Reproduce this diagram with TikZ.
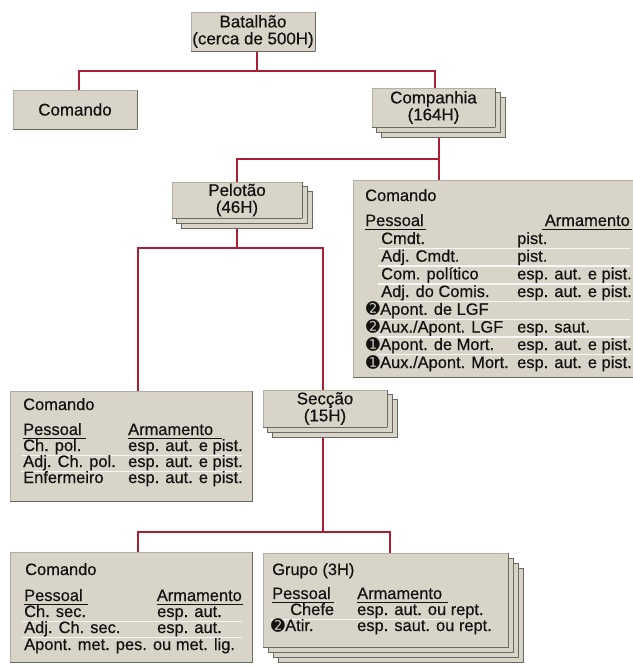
\documentclass[tikz,border=0pt]{standalone}
\usepackage{fontspec}
\setmainfont{Liberation Sans}
\newfontfamily\inkfont{Liberation Sans}[FakeBold=0.5]
\newfontfamily\djv{DejaVu Sans}
\usetikzlibrary{backgrounds}
\definecolor{boxfill}{RGB}{216,213,200}
\definecolor{edgegray}{RGB}{105,104,98}
\definecolor{conred}{RGB}{172,30,52}
\definecolor{ink}{RGB}{20,18,16}
\newcommand\tabfont{\inkfont\fontsize{16.5}{16}\selectfont}
\newcommand\ttlfont{\inkfont\fontsize{17}{17}\selectfont}
\tikzset{
  sheetedge/.style={draw=edgegray, line width=1.3bp},
  sheet/.style={fill=boxfill, draw=boxfill!82!black, line width=0.5bp,
    append after command={(\tikzlastnode.north east) edge[sheetedge] (\tikzlastnode.south east)
      (\tikzlastnode.south west) edge[sheetedge] (\tikzlastnode.south east)}},
  backsheet/.style={fill=boxfill, draw=edgegray, line width=0.9bp},
  title/.style={sheet, align=center, font=\ttlfont, text=ink, inner sep=1bp},
  tab/.style={sheet, anchor=north west, inner sep=0},
  txt/.style={inner sep=0, anchor=base west, font=\tabfont, text=ink},
  txte/.style={txt, anchor=base east},
  bul/.style={inner sep=0, anchor=base east, font=\djv\fontsize{16.5}{16}\selectfont, text=ink},
  conn/.style={draw=conred, line width=2.6bp},
  uline/.style={draw=ink, line width=1.1bp},
  rowsep/.style={draw=white, line width=1.2bp, opacity=0.8},
}
\begin{document}
\begin{tikzpicture}[x=1bp,y=-1bp]
\useasboundingbox (0,0) rectangle (633,666);

% title boxes
\node[title, minimum width=124bp, minimum height=39bp] (bat) at (253,31.5) {Batalhão\\(cerca de 500H)};
\node[title, minimum width=124bp, minimum height=39bp] (cmd) at (75,109.5) {Comando};
\node[title, minimum width=123bp, minimum height=39bp] (comp) at (433.5,107.5) {Companhia\\(164H)};
\node[title, minimum width=130bp, minimum height=36bp] (pel) at (237,200) {Pelotão\\(46H)};
\node[title, minimum width=124bp, minimum height=37bp] (sec) at (325,408.5) {Secção\\(15H)};

% tables
\node[tab, minimum width=280bp, minimum height=197bp] (ctab) at (353,180) {};
\node[tab, minimum width=242bp, minimum height=110bp] (ltab) at (10,391) {};
\node[tab, minimum width=242bp, minimum height=110bp] (btab) at (10,552) {};
\node[tab, minimum width=245bp, minimum height=94bp] (gtab) at (263,553) {};

% row separators
\foreach \yy in {248.5,266,284,301.5,319.5,337,354.5}
  \draw[rowsep] (378,\yy) -- (630,\yy);
\foreach \yy in {455.5,471.5}
  \draw[rowsep] (21,\yy) -- (242,\yy);
\foreach \yy in {621.5,637.5}
  \draw[rowsep] (22,\yy) -- (242,\yy);
\foreach \yy in {619.5}
  \draw[rowsep] (270,\yy) -- (450,\yy);

% right table (Companhia command)
\node[txt] (rc) at (365,201) {Comando};
\node[txt] (rp) at (365,226) {Pessoal};
\node[txte] (ra) at (630,226) {Armamento};
\node[txt] (r1) at (381,244) {Cmdt.};
\node[txt] (ra1) at (517,244) {pist.};
\node[txt] (r2) at (381,261.7) {Adj. Cmdt.};
\node[txt] (ra2) at (517,261.7) {pist.};
\node[txt] (r3) at (381,279.4) {Com. político};
\node[txt] (ra3) at (517,279.4) {esp. aut. e pist.};
\node[txt] (r4) at (381,297) {Adj. do Comis.};
\node[txt] (ra4) at (517,297) {esp. aut. e pist.};
\node[bul] (rb5) at (380,314.8) {➋};
\node[txt] (r5) at (380,314.8) {Apont. de LGF};
\node[bul] (rb6) at (380,332.5) {➋};
\node[txt] (r6) at (380,332.5) {Aux./Apont. LGF};
\node[txt] (ra6) at (517,332.5) {esp. saut.};
\node[bul] (rb7) at (380,350) {➊};
\node[txt] (r7) at (380,350) {Apont. de Mort.};
\node[txt] (ra7) at (517,350) {esp. aut. e pist.};
\node[bul] (rb8) at (380,368) {➊};
\node[txt] (r8) at (380,368) {Aux./Apont. Mort.};
\node[txt] (ra8) at (517,368) {esp. aut. e pist.};
\draw[uline] ([yshift=-3.5bp]rp.base west) -- ([yshift=-3.5bp,xshift=2bp]rp.base east);
\draw[uline] ([yshift=-3.5bp,xshift=-3bp]ra.base west) -- ([yshift=-3.5bp,xshift=2bp]ra.base east);

% left table (Pelotao command)
\node[txt] (lc) at (23,410) {Comando};
\node[txt] (lp) at (23,435) {Pessoal};
\node[txt] (la) at (128,435) {Armamento};
\node[txt] (l1) at (23,451) {Ch. pol.};
\node[txt] (la1) at (128,451) {esp. aut. e pist.};
\node[txt] (l2) at (23,467) {Adj. Ch. pol.};
\node[txt] (la2) at (128,467) {esp. aut. e pist.};
\node[txt] (l3) at (23,483) {Enfermeiro};
\node[txt] (la3) at (128,483) {esp. aut. e pist.};
\draw[uline] ([yshift=-3.5bp]lp.base west) -- ([yshift=-3.5bp,xshift=4bp]lp.base east);
\draw[uline] ([yshift=-3.5bp]la.base west) -- ([yshift=-3.5bp,xshift=9bp]la.base east);

% bottom table (Seccao command)
\node[txt] (bc) at (25,575) {Comando};
\node[txt] (bp) at (24,601) {Pessoal};
\node[txte] (ba) at (242,601) {Armamento};
\node[txt] (b1) at (24,617) {Ch. sec.};
\node[txt] (ba1) at (157,617) {esp. aut.};
\node[txt] (b2) at (24,633) {Adj. Ch. sec.};
\node[txt] (ba2) at (157,633) {esp. aut.};
\node[txt] (b3) at (24,650) {Apont. met. pes. ou met. lig.};
\draw[uline] ([yshift=-3.5bp]bp.base west) -- ([yshift=-3.5bp,xshift=5bp]bp.base east);
\draw[uline] ([yshift=-3.5bp]ba.base west) -- ([yshift=-3.5bp,xshift=1bp]ba.base east);

% Grupo table
\node[txt] (gc) at (272,575) {Grupo (3H)};
\node[txt] (gp) at (272,599) {Pessoal};
\node[txt] (ga) at (357,599) {Armamento};
\node[txt] (g1) at (290,615) {Chefe};
\node[txt] (ga1) at (357,615) {esp. aut. ou rept.};
\node[bul] (gb2) at (285,631) {➋};
\node[txt] (g2) at (285,631) {Atir.};
\node[txt] (ga2) at (357,631) {esp. saut. ou rept.};
\draw[uline] ([yshift=-3.5bp]gp.base west) -- ([yshift=-3.5bp,xshift=3bp]gp.base east);
\draw[uline] ([yshift=-3.5bp]ga.base west) -- ([yshift=-3.5bp,xshift=6bp]ga.base east);

% connectors and stacked sheets behind
\begin{pgfonlayer}{background}
  \fill[white] (0,0) rectangle (633,666);
  \coordinate (j1) at (257,71);
  \coordinate (j1l) at (79,71);
  \coordinate (j1r) at (435,71);
  \draw[conn] (bat.south -| j1) -- (j1);
  \draw[conn] (cmd.north -| j1l) -- (j1l) -- (j1r) -- (comp.north -| j1r);
  \coordinate (j2l) at (237,159);
  \coordinate (j2r) at (439,159);
  \draw[conn] (comp.south -| j2r) -- (ctab.north -| j2r);
  \draw[conn] (pel.north -| j2l) -- (j2l) -- (j2r);
  \coordinate (j3) at (237,248);
  \coordinate (j3l) at (138,248);
  \coordinate (j3r) at (323,248);
  \draw[conn] (pel.south -| j3) -- (j3);
  \draw[conn] (ltab.north -| j3l) -- (j3l) -- (j3r) -- (sec.north -| j3r);
  \coordinate (j4) at (323,532);
  \coordinate (j4l) at (138,532);
  \coordinate (j4r) at (390,532);
  \draw[conn] (sec.south -| j4) -- (j4);
  \draw[conn] (btab.north -| j4l) -- (j4l) -- (j4r) -- (gtab.north -| j4r);
  \foreach \n/\k in {comp/2, pel/2, sec/2, gtab/3} {
    \foreach \i in {\k,...,1} {
      \draw[backsheet] ([shift={(5*\i,5*\i)}]\n.north west) rectangle ([shift={(5*\i,5*\i)}]\n.south east);
    }
  }
\end{pgfonlayer}
\end{tikzpicture}
\end{document}
